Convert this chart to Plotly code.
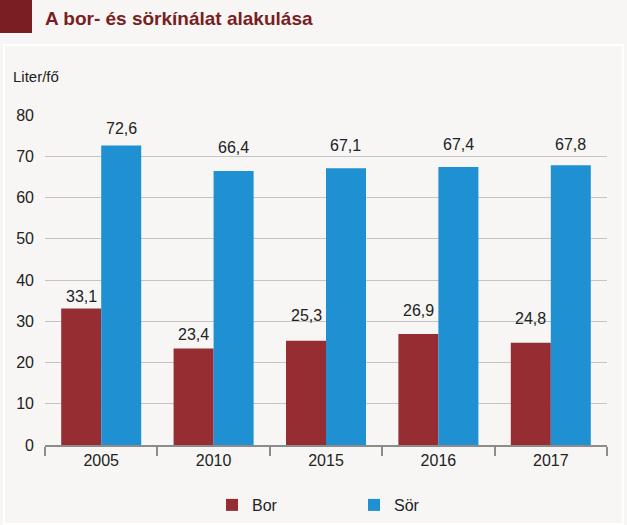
import plotly.graph_objects as go

years = ["2005", "2010", "2015", "2016", "2017"]
bor = [33.1, 23.4, 25.3, 26.9, 24.8]
sor = [72.6, 66.4, 67.1, 67.4, 67.8]
# vertical offsets (px) of the value labels above the bar tops, as in the reference
bor_label_shift = [12, 14, 25, 24, 24]
sor_label_shift = [17, 24, 23, 22, 21]

BOR_C = "#962d33"
SOR_C = "#1f90d1"
BG = "#f7f6f5"
FONT = "Liberation Sans, Arial, sans-serif"

W, H = 627, 525
ML, MR, MT, MB = 45, 20, 115, 80
PW = W - ML - MR
PH = H - MT - MB

def px(x):
    return (x - ML) / PW

def py(y):
    return (H - MB - y) / PH

fig = go.Figure()
fig.add_trace(go.Bar(x=years, y=bor, name="Bor", marker=dict(color=BOR_C, line=dict(width=0))))
fig.add_trace(go.Bar(x=years, y=sor, name="Sör", marker=dict(color=SOR_C, line=dict(width=0))))

annotations = []
for i, yr in enumerate(years):
    for vals, shifts, off in ((bor, bor_label_shift, -0.1775), (sor, sor_label_shift, 0.1775)):
        annotations.append(dict(
            x=i + off, y=vals[i], xref="x", yref="y",
            text=f"{vals[i]:.1f}".replace(".", ","),
            showarrow=False, yshift=shifts[i], yanchor="middle",
            font=dict(family=FONT, size=16, color="#222222"),
        ))

annotations.append(dict(x=px(11), y=py(77), xref="paper", yref="paper", text="Liter/fő",
                        showarrow=False, xanchor="left", yanchor="middle",
                        font=dict(family=FONT, size=15, color="#222222")))
annotations.append(dict(x=px(43), y=py(19), xref="paper", yref="paper",
                        text="<b>A bor- és sörkínálat alakulása</b>",
                        showarrow=False, xanchor="left", yanchor="middle",
                        font=dict(family=FONT, size=19, color="#7a1e23")))

shapes = [
    dict(type="rect", xref="paper", yref="paper", x0=px(0), x1=px(32), y0=py(33), y1=py(0),
         fillcolor="#7a1e23", line=dict(width=0), layer="above"),
    dict(type="rect", xref="paper", yref="paper", x0=px(4), x1=px(623), y0=py(524), y1=py(45),
         fillcolor="rgba(0,0,0,0)", line=dict(color="#ffffff", width=2), layer="below"),
]

fig.update_layout(
    width=W, height=H,
    margin=dict(l=ML, r=MR, t=MT, b=MB, pad=0, autoexpand=False),
    paper_bgcolor=BG, plot_bgcolor=BG,
    barmode="group", bargap=0.288, bargroupgap=0,
    font=dict(family=FONT, size=16, color="#222222"),
    showlegend=True,
    legend=dict(orientation="h", x=px(212), y=py(505), xref="paper", yref="paper",
                xanchor="left", yanchor="middle", entrywidth=97, entrywidthmode="pixels",
                font=dict(family=FONT, size=16, color="#222222"), bgcolor="rgba(0,0,0,0)",
                traceorder="normal"),
    xaxis=dict(type="category", showline=True, linecolor="#8c8c8c", linewidth=1.5,
               ticks="outside", tickson="boundaries", ticklen=9, tickcolor="#8c8c8c",
               tickwidth=1.5, showgrid=False, automargin=False,
               tickfont=dict(family=FONT, size=16, color="#222222")),
    yaxis=dict(range=[0, 80], dtick=10, showgrid=True, gridcolor="#c4c4c4", gridwidth=1,
               zeroline=False, showline=False, ticks="", ticklabelstandoff=10, automargin=False,
               tickfont=dict(family=FONT, size=16, color="#222222")),
    annotations=annotations,
    shapes=shapes,
)

fig.write_html("out.html", config={"displayModeBar": False},
               post_script="document.body.style.margin='0';document.body.style.background='" + BG + "';")
